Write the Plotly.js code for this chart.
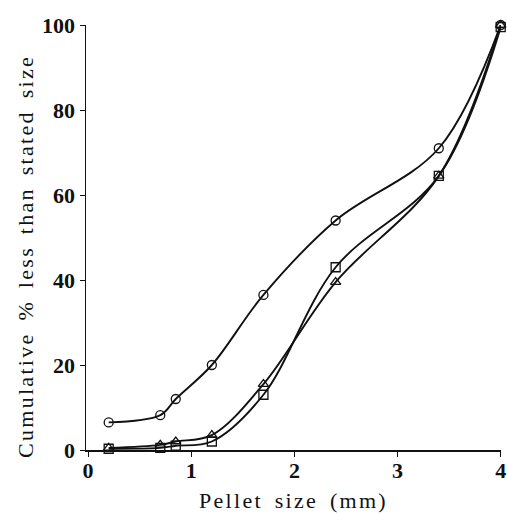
<!DOCTYPE html>
<html>
<head>
<meta charset="utf-8">
<script src="https://cdn.plot.ly/plotly-3.0.1.min.js"></script>
<style>
html,body{margin:0;padding:0;background:#fff;}
#chart{width:507px;height:514px;}
.xtitle,.annotation-text{letter-spacing:2.3px;word-spacing:4px;}
</style>
</head>
<body>
<div id="chart"></div>
<script>
const sizes = [0.2, 0.7, 0.85, 1.2, 1.7, 2.4, 3.4, 4.0];
const circleSeries = [6.5, 8.2, 12, 20, 36.5, 54, 71, 100];
const triangleSeries = [0.5, 1.2, 2, 3.5, 15.5, 39.5, 64.5, 100];
const squareSeries = [0.3, 0.5, 1, 2, 13, 43, 64.5, 99.5];
const xTicks = [0, 1, 2, 3, 4];
const yTicks = [0, 20, 40, 60, 80, 100];
const xTitle = 'Pellet size (mm)';
const yTitle = 'Cumulative % less than stated size';

const fam = 'Liberation Serif, Times New Roman, serif';
function trace(y, sym) {
  return {
    x: sizes, y: y, type: 'scatter', mode: 'lines+markers',
    line: {color: '#111', width: 1.9, shape: 'spline', smoothing: 1},
    marker: {symbol: sym, size: 9, color: '#111', line: {color: '#111', width: 1.3}},
    cliponaxis: false, showlegend: false
  };
}
const data = [
  trace(circleSeries, 'circle-open'),
  trace(triangleSeries, 'triangle-up-open'),
  trace(squareSeries, 'square-open')
];
const layout = {
  width: 507, height: 514,
  margin: {l: 86, r: 6, t: 25, b: 64},
  paper_bgcolor: '#fff', plot_bgcolor: '#fff',
  font: {family: fam, color: '#111'},
  xaxis: {
    range: [-0.02, 4.003], tickvals: xTicks, ticktext: xTicks.map(String),
    showgrid: false, zeroline: false, showline: true, linecolor: '#111', linewidth: 1.5,
    ticks: 'outside', ticklen: 5, tickcolor: '#111', ticklabelstandoff: -5,
    ticklabeloverflow: 'allow',
    tickfont: {family: fam, size: 22, color: '#111', weight: 'bold'},
    title: {text: xTitle, font: {family: fam, size: 22, color: '#111'}, standoff: 10}
  },
  yaxis: {
    range: [0, 100], tickvals: yTicks, ticktext: yTicks.map(String),
    showgrid: false, zeroline: false, showline: true, linecolor: '#111', linewidth: 1.5,
    ticks: 'outside', ticklen: 5, tickcolor: '#111',
    tickfont: {family: fam, size: 22, color: '#111', weight: 'bold'}
  },
  annotations: [{
    text: yTitle, textangle: -90, showarrow: false,
    xref: 'paper', yref: 'paper', x: -0.146, y: 0.455,
    xanchor: 'center', yanchor: 'middle',
    font: {family: fam, size: 22, color: '#111'}
  }]
};
Plotly.newPlot('chart', data, layout, {displayModeBar: false, staticPlot: true});
</script>
</body>
</html>
